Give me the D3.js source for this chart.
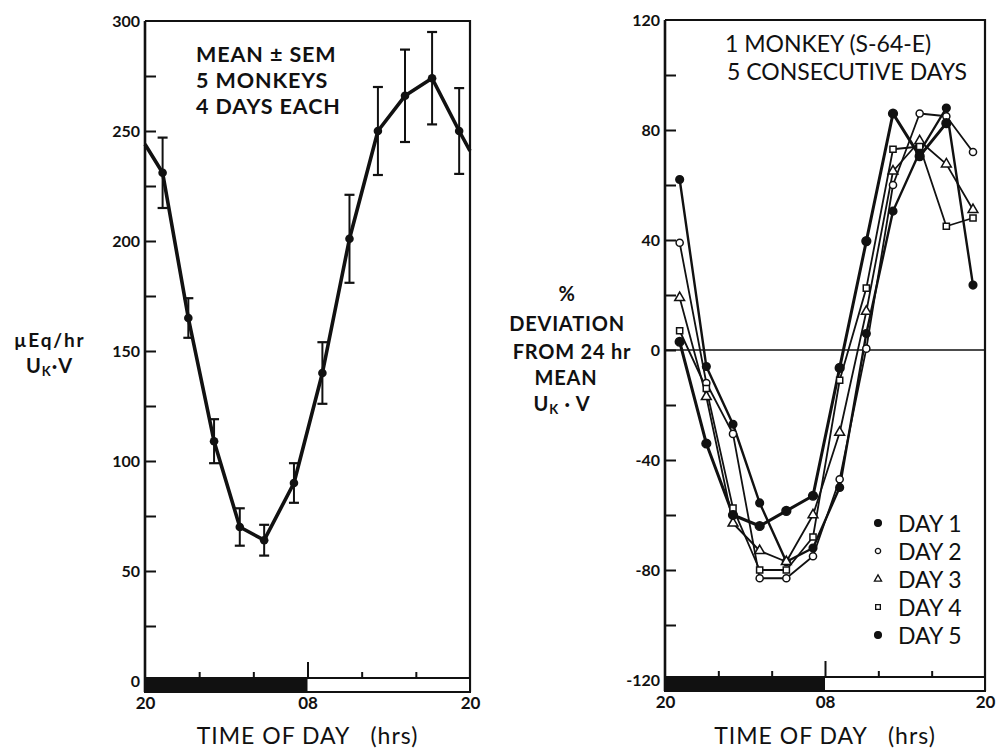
<!DOCTYPE html>
<html><head><meta charset="utf-8">
<script src="https://cdn.jsdelivr.net/npm/d3@7"></script>
<style>
body{margin:0;background:#fff}
text{font-family:Lato,"DejaVu Sans",sans-serif;fill:#111}
</style>
</head><body>
<svg id="c" width="998" height="750"></svg>
<script>
// ---------- DATA ----------
// Left panel: mean ± SEM of U_K·V (µEq/hr); hours after 20:00
const hoursLeft = [0, 1.3, 3.2, 5.1, 7.0, 8.8, 11.0, 13.1, 15.1, 17.2, 19.2, 21.2, 23.2, 24];
const meanUkV   = [244, 231, 165, 109, 70, 64, 90, 140, 201, 250, 266, 274, 250, 241];
const semUkV    = [null, 16, 9, 10, 8.5, 7, 9, 14, 20, 20, 21, 21, 19.5, null];

// Right panel: % deviation from 24 hr mean, one monkey, 5 days
const hoursRight = [1.1, 3.1, 5.1, 7.1, 9.1, 11.1, 13.1, 15.1, 17.1, 19.1, 21.1, 23.1];
const day1 = [62, -6, -27, -55.6, -77, -72, -50, 6, 50.5, 72, 88, 23.6];
const day2 = [39, -12, -30.5, -83, -83, -75, -47, 0.5, 60, 86, 85, 72];
const day3 = [19, -17, -63, -73, -77, -60, -30, 14, 65, 76, 67.6, 51];
const day4 = [7, -14, -57.5, -80, -80, -68, -11, 22.5, 73, 74, 45, 48];
const day5 = [3, -34, -60, -64, -58.5, -53, -6.5, 39.6, 86, 70.5, 82.5, null];
const dayNames = ["DAY 1", "DAY 2", "DAY 3", "DAY 4", "DAY 5"];

const leftTicks  = [0, 25, 50, 75, 100, 125, 150, 175, 200, 225, 250, 275, 300];
const rightTicks = [-120, -100, -80, -60, -40, -20, 0, 20, 40, 60, 80, 100, 120];
const timeTickHours = [0, 4, 8, 12, 16, 20, 24];
const timeLabelHours = [0, 12, 24];
const timeLabels = ["20", "08", "20"];

// ---------- DRAW ----------
const svg = d3.select("#c");
const FONT = 'Lato,"DejaVu Sans",sans-serif';

function panel(opt) {
  const g = svg.append("g");
  const x = d3.scaleLinear().domain([0, 24]).range([opt.x0, opt.x1]);
  const y = d3.scaleLinear().domain(opt.ydom).range([opt.yb, opt.yt]);
  g.append("path")
    .attr("d", `M${opt.x0},${opt.yt}H${opt.x1}V${opt.barBot}`)
    .attr("fill", "none").attr("stroke", "#111").attr("stroke-width", 2.2);
  const ya = d3.axisLeft(y).tickValues(opt.yticks)
    .tickSizeInner(-11).tickSizeOuter(0).tickPadding(5)
    .tickFormat(d => opt.labelEvery(d) ? d : "");
  const yg = g.append("g").attr("transform", `translate(${opt.x0},0)`).call(ya);
  yg.select(".domain").attr("stroke", "#111").attr("stroke-width", 2.6)
    .attr("d", `M0,${opt.yt}V${opt.barBot}`);
  yg.selectAll(".tick line").attr("stroke", "#111").attr("stroke-width", 2);
  yg.selectAll(".tick text").style("font-family", FONT).style("font-size", "16px")
    .style("font-weight", 700).attr("fill", "#111");
  yg.selectAll(".tick").filter(d => d === opt.ydom[0] || d === opt.ydom[1]).select("line").remove();

  g.append("rect").attr("x", x(0)).attr("y", opt.barTop).attr("width", x(24) - x(0))
    .attr("height", opt.barBot - opt.barTop).attr("fill", "#fff").attr("stroke", "#111").attr("stroke-width", 2);
  g.append("rect").attr("x", x(0)).attr("y", opt.barTop).attr("width", x(12) - x(0))
    .attr("height", opt.barBot - opt.barTop).attr("fill", "#111");
  const xa = d3.axisTop(x).tickValues(timeTickHours.filter(h => h > 0 && h < 24))
    .tickSizeOuter(0).tickFormat("");
  const xg = g.append("g").attr("transform", `translate(0,${opt.barTop})`).call(xa);
  xg.select(".domain").remove();
  xg.selectAll(".tick line").attr("stroke", "#111").attr("stroke-width", 2)
    .attr("y2", d => d === 12 ? -16 : -6);
  const xl = d3.axisBottom(x).tickValues(timeLabelHours).tickSize(0).tickPadding(5)
    .tickFormat((d, i) => timeLabels[i]);
  const xlg = g.append("g").attr("transform", `translate(0,${opt.barBot})`).call(xl);
  xlg.select(".domain").remove();
  xlg.selectAll("text").style("font-family", FONT).style("font-size", "17px")
    .style("font-weight", 700).attr("fill", "#111");
  g.append("text").attr("x", x(12)).attr("y", 744).attr("text-anchor", "middle")
    .style("font-size", "23px").style("font-weight", opt.titleWeight).style("letter-spacing", "1px")
    .text("TIME OF DAY").append("tspan").attr("dx", 20).text("(hrs)");
  return {g, x, y};
}

// Left panel
const L = panel({x0: 145, x1: 470, yt: 21, yb: 681, ydom: [0, 300], barTop: 678, barBot: 692,
  yticks: leftTicks, labelEvery: d => d % 50 === 0, titleWeight: 400});
{
  const {g, x, y} = L;
  const pts = hoursLeft.map((h, i) => ({h, m: meanUkV[i], s: semUkV[i]}));
  g.append("path").datum(pts)
    .attr("d", d3.line().x(d => x(d.h)).y(d => y(d.m)))
    .attr("fill", "none").attr("stroke", "#111").attr("stroke-width", 3.6).attr("stroke-linejoin", "round");
  const eb = g.selectAll(".eb").data(pts.filter(d => d.s != null)).join("g");
  eb.append("line").attr("x1", d => x(d.h)).attr("x2", d => x(d.h))
    .attr("y1", d => y(d.m + d.s)).attr("y2", d => y(d.m - d.s)).attr("stroke", "#111").attr("stroke-width", 2);
  [1, -1].forEach(k => eb.append("line").attr("x1", d => x(d.h) - 5).attr("x2", d => x(d.h) + 5)
    .attr("y1", d => y(d.m + k * d.s)).attr("y2", d => y(d.m + k * d.s)).attr("stroke", "#111").attr("stroke-width", 2.2));
  eb.append("circle").attr("cx", d => x(d.h)).attr("cy", d => y(d.m)).attr("r", 4.3).attr("fill", "#111");

  const t = g.append("text").style("font-size", "21.5px").style("font-weight", 700).style("letter-spacing", "0.9px");
  t.append("tspan").attr("x", 196).attr("y", 62).text("MEAN ± SEM");
  t.append("tspan").attr("x", 196).attr("y", 88).text("5 MONKEYS");
  t.append("tspan").attr("x", 196).attr("y", 114).text("4 DAYS EACH");

  svg.append("text").attr("x", 14).attr("y", 347).style("font-size", "19px").style("font-weight", 700)
    .style("letter-spacing", "1.8px").text("µEq/hr");
  const l2 = svg.append("text").attr("x", 26).attr("y", 373).style("font-size", "20px").style("font-weight", 700)
    .style("letter-spacing", "1px");
  l2.append("tspan").text("U");
  l2.append("tspan").attr("dy", 3).style("font-size", "13px").text("K");
  l2.append("tspan").attr("dy", -3).text("·V");
}

// Right panel
const R = panel({x0: 665, x1: 985, yt: 20, yb: 680, ydom: [-120, 120], barTop: 677, barBot: 691,
  yticks: rightTicks, labelEvery: d => d % 40 === 0, titleWeight: 400});
{
  const {g, x, y} = R;
  g.append("line").attr("x1", x(0)).attr("x2", x(24)).attr("y1", y(0)).attr("y2", y(0))
    .attr("stroke", "#111").attr("stroke-width", 1.6);
  const series = [
    {name: dayNames[0], v: day1, sym: d3.symbolCircle, size: 46, fill: true, w: 2.4},
    {name: dayNames[1], v: day2, sym: d3.symbolCircle, size: 40, fill: false, w: 1.8},
    {name: dayNames[2], v: day3, sym: d3.symbolTriangle, size: 42, fill: false, w: 1.8},
    {name: dayNames[3], v: day4, sym: d3.symbolSquare, size: 38, fill: false, w: 1.8},
    {name: dayNames[4], v: day5, sym: d3.symbolCircle, size: 60, fill: true, w: 3}
  ];
  const line = d3.line().defined(d => d.v != null).x(d => x(d.h)).y(d => y(d.v));
  series.forEach(s => {
    const pts = hoursRight.map((h, i) => ({h, v: s.v[i]}));
    g.append("path").datum(pts).attr("d", line).attr("fill", "none")
      .attr("stroke", "#111").attr("stroke-width", s.w).attr("stroke-linejoin", "round");
  });
  series.forEach(s => {
    const pts = hoursRight.map((h, i) => ({h, v: s.v[i]})).filter(d => d.v != null);
    g.selectAll(null).data(pts).join("path")
      .attr("transform", d => `translate(${x(d.h)},${y(d.v)})`)
      .attr("d", d3.symbol(s.sym, s.size))
      .attr("fill", s.fill ? "#111" : "#fff").attr("stroke", "#111").attr("stroke-width", 1.5);
  });
  const lg = g.append("g");
  series.forEach((s, i) => {
    const yy = 523 + i * 28;
    lg.append("path").attr("transform", `translate(878,${yy})`)
      .attr("d", d3.symbol(s.sym, s.fill ? 36 : 22))
      .attr("fill", s.fill ? "#111" : "#fff").attr("stroke", "#111").attr("stroke-width", 1.3);
    lg.append("text").attr("x", 898).attr("y", yy + 9).style("font-size", "23px").text(s.name);
  });
  const t = g.append("text").style("font-size", "23px");
  t.append("tspan").attr("x", 725).attr("y", 52).text("1 MONKEY (S-64-E)");
  t.append("tspan").attr("x", 727).attr("y", 80).text("5 CONSECUTIVE DAYS");

  const yl = svg.append("g").style("font-weight", 700).style("font-size", "20px").style("letter-spacing", "0.8px");
  yl.append("text").attr("x", 567).attr("y", 301).attr("text-anchor", "middle").text("%");
  yl.append("text").attr("x", 567).attr("y", 331).attr("text-anchor", "middle").text("DEVIATION");
  yl.append("text").attr("x", 572).attr("y", 359).attr("text-anchor", "middle").text("FROM 24 hr");
  yl.append("text").attr("x", 566).attr("y", 385).attr("text-anchor", "middle").text("MEAN");
  const u = yl.append("text").attr("x", 562).attr("y", 411).attr("text-anchor", "middle");
  u.append("tspan").text("U");
  u.append("tspan").attr("dy", 3).style("font-size", "13px").text("K");
  u.append("tspan").attr("dy", -3).text(" · V");
}
</script>
</body></html>
